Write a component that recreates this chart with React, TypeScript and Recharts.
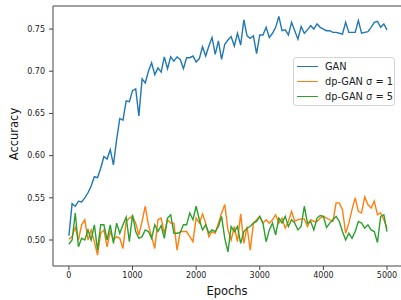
import { LineChart, Line, XAxis, YAxis } from "recharts";

const EPOCH_STEP = 50;

const gan = [
  0.505, 0.543, 0.54, 0.546, 0.545, 0.55, 0.556, 0.564, 0.575, 0.574,
  0.585, 0.599, 0.596, 0.607, 0.589, 0.619, 0.644, 0.642, 0.665, 0.664,
  0.677, 0.679, 0.647, 0.691, 0.686, 0.7, 0.71, 0.696, 0.704, 0.699,
  0.717, 0.703, 0.717, 0.712, 0.717, 0.714, 0.703, 0.716, 0.716, 0.718,
  0.711, 0.715, 0.729, 0.718, 0.73, 0.74, 0.72, 0.736, 0.714, 0.732,
  0.737, 0.741, 0.73, 0.745, 0.731, 0.761, 0.742, 0.739, 0.742, 0.721,
  0.743, 0.743, 0.752, 0.74, 0.745, 0.752, 0.765, 0.748, 0.749, 0.743,
  0.758, 0.748, 0.738, 0.753, 0.745, 0.749, 0.754, 0.75, 0.756, 0.752,
  0.75, 0.748, 0.748, 0.746, 0.746, 0.745, 0.744, 0.758, 0.746, 0.746,
  0.746, 0.76, 0.745, 0.746, 0.747, 0.752, 0.758, 0.759, 0.752, 0.756,
  0.749,
];

const dpGan1 = [
  0.501, 0.504, 0.515, 0.5, 0.518, 0.524, 0.5, 0.512, 0.498, 0.482,
  0.508, 0.512, 0.492, 0.51, 0.5, 0.504, 0.502, 0.49, 0.522, 0.526,
  0.528, 0.52, 0.506, 0.522, 0.54, 0.518, 0.504, 0.49, 0.524, 0.526,
  0.508, 0.524, 0.52, 0.52, 0.488, 0.51, 0.51, 0.51, 0.504, 0.498,
  0.526, 0.52, 0.531, 0.52, 0.504, 0.51, 0.508, 0.52, 0.532, 0.542,
  0.512, 0.5, 0.516, 0.498, 0.531, 0.496, 0.516, 0.488, 0.52, 0.524,
  0.528, 0.52, 0.524, 0.52, 0.524, 0.53, 0.52, 0.526, 0.514, 0.522,
  0.534, 0.522, 0.524, 0.525, 0.525, 0.516, 0.524, 0.522, 0.522, 0.526,
  0.528, 0.526, 0.524, 0.522, 0.544, 0.544, 0.536, 0.508, 0.52, 0.536,
  0.55, 0.534, 0.532, 0.551, 0.542, 0.538, 0.546, 0.53, 0.532, 0.524,
  0.514,
];

const dpGan5 = [
  0.495, 0.5, 0.532, 0.492, 0.502, 0.5, 0.512, 0.5, 0.518, 0.488,
  0.518, 0.518, 0.5, 0.518, 0.496, 0.52, 0.508, 0.518, 0.527, 0.498,
  0.53, 0.51, 0.502, 0.504, 0.512, 0.51, 0.502, 0.518, 0.51, 0.517,
  0.502, 0.526, 0.53, 0.508, 0.508, 0.509, 0.518, 0.518, 0.532, 0.524,
  0.54, 0.524, 0.512, 0.518, 0.508, 0.512, 0.51, 0.516, 0.528, 0.502,
  0.486, 0.516, 0.51, 0.516, 0.496, 0.51, 0.514, 0.516, 0.52, 0.522,
  0.528, 0.52, 0.498, 0.512, 0.52, 0.506, 0.526, 0.52, 0.528, 0.516,
  0.524, 0.52, 0.512, 0.516, 0.54, 0.52, 0.522, 0.512, 0.526, 0.529,
  0.528, 0.515, 0.52, 0.524, 0.528, 0.522, 0.51, 0.5, 0.508, 0.502,
  0.51, 0.522, 0.52, 0.514, 0.518, 0.512, 0.51, 0.497, 0.528, 0.53,
  0.51,
];

const xTicks = [0, 1000, 2000, 3000, 4000, 5000];
const yTicks = [0.5, 0.55, 0.6, 0.65, 0.7, 0.75];

const series = [
  { key: "gan", name: "GAN", color: "#1f77b4" },
  { key: "dp1", name: "dp-GAN σ = 1", color: "#ff7f0e" },
  { key: "dp5", name: "dp-GAN σ = 5", color: "#2ca02c" },
];

const data = gan.map((v, i) => ({
  epoch: i * EPOCH_STEP,
  gan: v,
  dp1: dpGan1[i],
  dp5: dpGan5[i],
}));

const FONT = "DejaVu Sans";
const AXIS = "#444";

function LegendBox() {
  return (
    <div
      style={{
        position: "absolute",
        left: 293,
        top: 57,
        border: "1px solid #d4d4d4",
        borderRadius: 3,
        background: "rgba(255,255,255,0.8)",
        padding: "1px 0",
        fontFamily: FONT,
        fontSize: 9.8,
        color: "#222",
        width: 102,
        boxSizing: "border-box",
      }}
    >
      {series.map((s) => (
        <div key={s.key} style={{ display: "flex", alignItems: "center", height: 15 }}>
          <span
            style={{
              display: "inline-block",
              width: 21,
              height: 0,
              borderTop: `1.5px solid ${s.color}`,
              marginLeft: 3,
              marginRight: 7,
            }}
          />
          <span style={{ whiteSpace: "nowrap" }}>{s.name}</span>
        </div>
      ))}
    </div>
  );
}

export default function App() {
  return (
    <div style={{ position: "absolute", left: 0, top: 0, width: 401, height: 300, background: "#fff" }}>
      <LineChart
        width={401}
        height={300}
        data={data}
        margin={{ top: 5, right: 0, bottom: 0, left: 0 }}
      >
        <XAxis
          dataKey="epoch"
          type="number"
          domain={[-250, 5220]}
          ticks={xTicks}
          allowDataOverflow
          height={34}
          tickSize={4}
          tickMargin={2}
          stroke={AXIS}
          tick={{ fontSize: 8, fontFamily: FONT, fill: "#222" }}
          label={{
            value: "Epochs",
            position: "insideBottom",
            offset: 5,
            style: { fontSize: 11.5, fontFamily: FONT, fill: "#111" },
          }}
        />
        <XAxis
          xAxisId="top"
          dataKey="epoch"
          type="number"
          orientation="top"
          domain={[-250, 5220]}
          allowDataOverflow
          height={1}
          tick={false}
          tickLine={false}
          stroke={AXIS}
        />
        <YAxis
          type="number"
          domain={[0.4692, 0.7773]}
          ticks={yTicks}
          allowDataOverflow
          width={53}
          tickSize={4}
          tickMargin={4}
          stroke={AXIS}
          tickFormatter={(v: number) => v.toFixed(2)}
          tick={{ fontSize: 8, fontFamily: FONT, fill: "#222" }}
          label={{
            content: (props: any) => {
              const vb = props.viewBox || { x: 0, y: 6, width: 53, height: 260 };
              const cx = 14;
              const cy = vb.y + vb.height / 2 - 2;
              return (
                <text
                  x={cx}
                  y={cy}
                  transform={`rotate(-90 ${cx} ${cy})`}
                  textAnchor="middle"
                  dominantBaseline="central"
                  style={{ fontSize: 11.5, fontFamily: FONT, fill: "#111" }}
                >
                  Accuracy
                </text>
              );
            },
          }}
        />
        {series.map((s) => (
          <Line
            key={s.key}
            dataKey={s.key}
            name={s.name}
            stroke={s.color}
            strokeWidth={1.4}
            dot={false}
            activeDot={false}
            type="linear"
            isAnimationActive={false}
          />
        ))}
      </LineChart>
      <LegendBox />
    </div>
  );
}
